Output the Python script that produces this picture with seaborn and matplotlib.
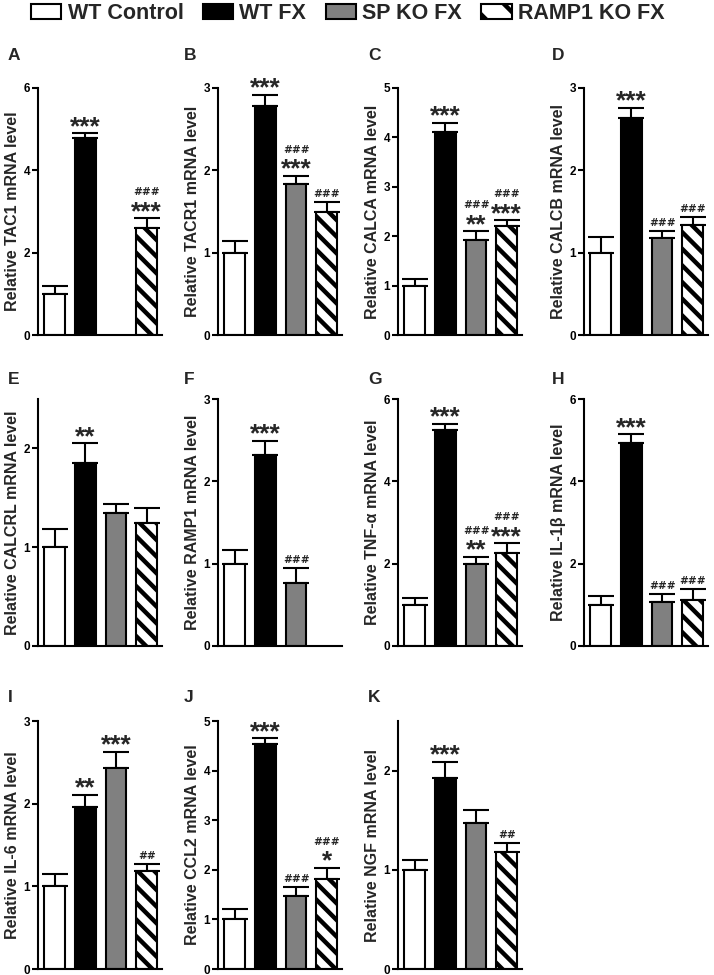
import matplotlib
matplotlib.use('Agg')
import matplotlib.pyplot as plt
import seaborn as sns
import numpy as np
import pandas as pd
from matplotlib.patches import Patch
from matplotlib.textpath import TextPath
from matplotlib.font_manager import FontProperties

# ---------------- data ----------------
groups = ['WT Control', 'WT FX', 'SP KO FX', 'RAMP1 KO FX']
panel_letters = ['A', 'B', 'C', 'D', 'E', 'F', 'G', 'H', 'I', 'J', 'K']
genes = ['TAC1', 'TACR1', 'CALCA', 'CALCB', 'CALCRL', 'RAMP1',
         'TNF-α', 'IL-1β', 'IL-6', 'CCL2', 'NGF']
nan = float('nan')
means = [
    [1.00, 4.78, nan, 2.60],
    [1.00, 2.78, 1.83, 1.49],
    [1.00, 4.10, 1.92, 2.20],
    [1.00, 2.64, 1.18, 1.33],
    [1.00, 1.85, 1.35, 1.25],
    [1.00, 2.32, 0.77, nan],
    [1.00, 5.24, 2.00, 2.26],
    [1.00, 4.94, 1.08, 1.12],
    [1.00, 1.96, 2.43, 1.19],
    [1.00, 4.54, 1.47, 1.81],
    [1.00, 1.93, 1.47, 1.18],
]
sems = [
    [0.20, 0.12, nan, 0.23],
    [0.14, 0.14, 0.10, 0.12],
    [0.13, 0.20, 0.18, 0.12],
    [0.19, 0.12, 0.08, 0.10],
    [0.18, 0.20, 0.09, 0.15],
    [0.17, 0.17, 0.18, nan],
    [0.17, 0.15, 0.17, 0.23],
    [0.21, 0.20, 0.18, 0.26],
    [0.15, 0.15, 0.20, 0.08],
    [0.20, 0.11, 0.18, 0.23],
    [0.10, 0.16, 0.13, 0.09],
]
stars = [
    ['', '***', '', '***'],
    ['', '***', '***', ''],
    ['', '***', '**', '***'],
    ['', '***', '', ''],
    ['', '**', '', ''],
    ['', '***', '', ''],
    ['', '***', '**', '***'],
    ['', '***', '', ''],
    ['', '**', '***', ''],
    ['', '***', '', '*'],
    ['', '***', '', ''],
]
hashes = [
    ['', '', '', '###'],
    ['', '', '###', '###'],
    ['', '', '###', '###'],
    ['', '', '###', '###'],
    ['', '', '', ''],
    ['', '', '###', ''],
    ['', '', '###', '###'],
    ['', '', '###', '###'],
    ['', '', '', '##'],
    ['', '', '###', '###'],
    ['', '', '', '##'],
]
ymax = [6, 3, 5, 3, 2.5, 3, 6, 6, 3, 5, 2.5]
ystep = [2, 1, 1, 1, 1, 1, 2, 2, 1, 1, 1]

# ---------------- style ----------------
sns.set_style('white')
plt.rcParams['font.family'] = ['Liberation Sans', 'DejaVu Sans']
plt.rcParams['font.weight'] = 'bold'
plt.rcParams['axes.labelweight'] = 'bold'
plt.rcParams['hatch.linewidth'] = 3.2

colors = {'WT Control': 'white', 'WT FX': 'black',
          'SP KO FX': '#808080', 'RAMP1 KO FX': 'white'}

star_fp = FontProperties(family='Liberation Sans', weight='bold')
hash_fp = FontProperties(family='DejaVu Sans', weight='bold')
STAR_FS = 19
HASH_FS = 7.6
s_ext = TextPath((0, 0), '***', size=STAR_FS, prop=star_fp).get_extents()
h_ext = TextPath((0, 0), '###', size=HASH_FS, prop=hash_fp).get_extents()
GAP1 = 5.5   # pt between error cap and stars
GAP2 = 4.0   # pt between stars and hashes
GAP3 = 3.8   # pt between error cap and hashes (no stars)
star_off = GAP1 - s_ext.y0
star_top = star_off + s_ext.y1 - s_ext.y0 + s_ext.y0
hash_off_with = star_top + GAP2 - h_ext.y0
hash_off_alone = GAP3 - h_ext.y0

W, H = 714, 975
fig = plt.figure(figsize=(W / 100, H / 100), dpi=100)

col_left = [38, 218, 398, 584]
row_top = [88, 399, 721]
row_bot = [335, 646, 969]
ax_w = 124
letter_x = [8, 184, 368, 552]
letter_y = [56, 379, 697]

for i in range(11):
    r, c = divmod(i, 4)
    x0 = col_left[c]
    ax = fig.add_axes([x0 / W, 1 - row_bot[r] / H, ax_w / W,
                       (row_bot[r] - row_top[r]) / H])
    df = pd.DataFrame({'group': groups, 'value': means[i], 'sem': sems[i]})
    dfv = df.dropna()
    sns.barplot(data=dfv, x='group', y='value', hue='group', order=groups,
                hue_order=groups, palette=colors, edgecolor='black',
                linewidth=1.5, width=0.68, errorbar=None, legend=False,
                dodge=False, ax=ax, zorder=2)
    for p in ax.patches:
        xc = p.get_x() + p.get_width() / 2
        if abs(xc - 3) < 0.2:
            p.set_hatch('\\\\')
    pos = [groups.index(g) for g in dfv['group']]
    ax.errorbar(pos, dfv['value'], yerr=[np.zeros(len(dfv)), dfv['sem']],
                fmt='none', ecolor='black', elinewidth=1.5, capsize=9.5,
                capthick=1.5, zorder=1)
    for j in range(4):
        if np.isnan(means[i][j]):
            continue
        top = means[i][j] + sems[i][j]
        s = stars[i][j]
        h = hashes[i][j]
        if s:
            ax.annotate(s, xy=(j, top), xytext=(0, star_off),
                        textcoords='offset points', ha='center', va='baseline',
                        fontsize=STAR_FS, family='Liberation Sans',
                        fontweight='bold')
        if h:
            off = hash_off_with if s else hash_off_alone
            ax.annotate(h, xy=(j, top), xytext=(0, off),
                        textcoords='offset points', ha='center', va='baseline',
                        fontsize=HASH_FS, family='DejaVu Sans',
                        fontweight='bold')
    ax.set_xlim(-0.55, 3.5)
    ax.set_ylim(0, ymax[i])
    ticks = np.arange(0, ymax[i] + 0.001, ystep[i])
    ax.set_yticks(ticks)
    ax.set_yticklabels([f'{t:g}' for t in ticks])
    ax.set_xticks([])
    ax.set_xlabel('')
    ax.set_ylabel(f'Relative {genes[i]} mRNA level', fontsize=11.5,
                  fontweight='bold', labelpad=3)
    for side in ['top', 'right']:
        ax.spines[side].set_visible(False)
    for side in ['left', 'bottom']:
        ax.spines[side].set_linewidth(1.5)
        ax.spines[side].set_color('black')
    ax.tick_params(axis='y', direction='out', length=4, width=1.5,
                   labelsize=8.5, pad=1.5, left=True, colors='black')
    ax.set_facecolor('none')
    fig.text(letter_x[c] / W, 1 - letter_y[r] / H, panel_letters[i],
             ha='left', va='center', fontsize=12.5, fontweight='bold')

handles = [Patch(facecolor='white', edgecolor='black', linewidth=1.5),
           Patch(facecolor='black', edgecolor='black', linewidth=1.5),
           Patch(facecolor='#808080', edgecolor='black', linewidth=1.5),
           Patch(facecolor='white', edgecolor='black', linewidth=1.5, hatch='\\')]
fig.legend(handles, groups, loc='upper left', bbox_to_anchor=(31 / W, 1 - 3 / H),
           ncol=4, frameon=False, handlelength=1.4,
           handleheight=0.7, handletextpad=0.3, columnspacing=0.9,
           borderpad=0, borderaxespad=0, prop={'weight': 'bold', 'size': 15.5})

fig.savefig('out.png', dpi=100)
